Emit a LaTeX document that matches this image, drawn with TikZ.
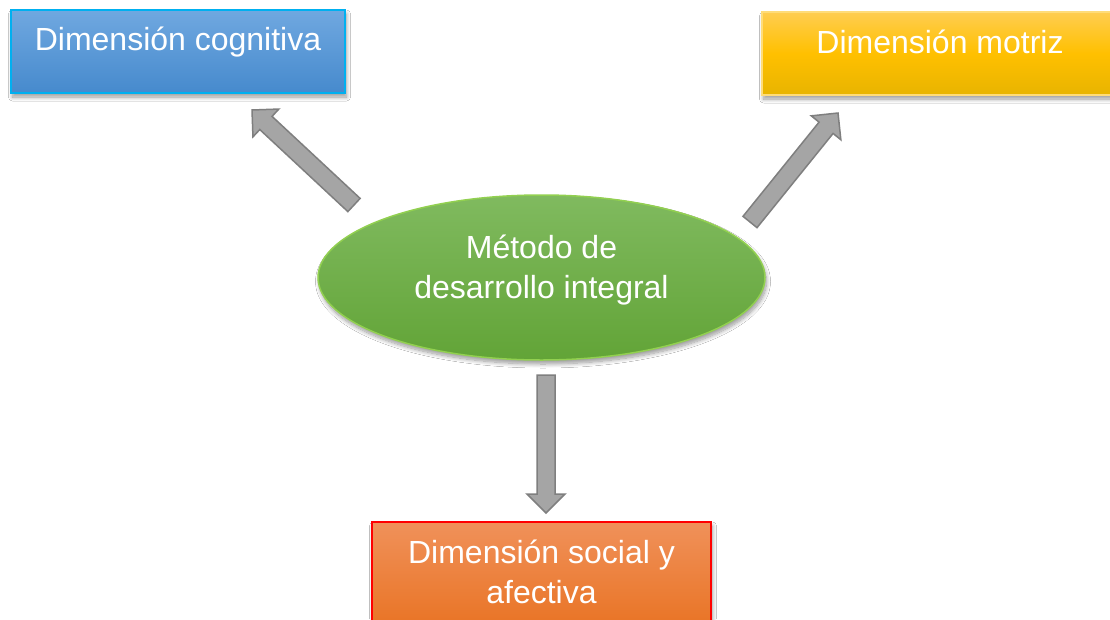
\documentclass[tikz,border=0pt]{standalone}
\usepackage{fontspec}
\setmainfont{Liberation Sans}
\usetikzlibrary{calc,shapes.geometric,shadows,shadows.blur}
\definecolor{bluetop}{HTML}{70A8E0}
\definecolor{bluebot}{HTML}{468ACD}
\definecolor{blueedge}{HTML}{00B0F0}
\definecolor{yeltop}{HTML}{FFCD50}
\definecolor{yelmid}{HTML}{FFC000}
\definecolor{yelbot}{HTML}{E8B400}
\definecolor{yeledge}{HTML}{FFDC78}
\definecolor{grntop}{HTML}{80BA5F}
\definecolor{grnbot}{HTML}{62A437}
\definecolor{grnedge}{HTML}{92D050}
\definecolor{ortop}{HTML}{F0915A}
\definecolor{orbot}{HTML}{E8701E}
\definecolor{oredge}{HTML}{FF0000}
\definecolor{arrfill}{HTML}{A5A5A5}
\definecolor{arredge}{HTML}{7F7F7F}
\newcommand\bxtext[4]{\parbox[c][#2pt][t]{#1pt}{\centering\rule{0pt}{#3pt}#4}}
\newcommand\blkarrow[2]{%
  \coordinate (hb) at ($(#2)!19pt!(#1)$);
  \draw[blockarrow] ($(#1)!9pt!90:(#2)$) -- ($(hb)!9pt!90:(#2)$) -- ($(hb)!19pt!90:(#2)$) -- (#2)
    -- ($(hb)!19pt!-90:(#2)$) -- ($(hb)!9pt!-90:(#2)$) -- ($(#1)!9pt!-90:(#2)$) -- cycle;}
\begin{document}
\begin{tikzpicture}[x=1pt,y=-1pt,
  txt/.style={text=white,font=\fontsize{32}{40}\selectfont,inner sep=0pt},
  shad/.style={blur shadow={shadow xshift=1.5pt,shadow yshift=-4pt,shadow opacity=40,shadow blur steps=10,shadow blur radius=4pt}},
  boxbase/.style={txt,rectangle,shad,line width=1.5pt},
  cogbox/.style={boxbase,draw=blueedge,top color=bluetop,bottom color=bluebot,line width=2pt},
  motbox/.style={boxbase,draw=yeledge,top color=yeltop,bottom color=yelbot,middle color=yelmid},
  socbox/.style={boxbase,draw=oredge,top color=ortop,bottom color=orbot},
  methell/.style={txt,ellipse,shad,draw=grnedge,line width=1.5pt,top color=grntop,bottom color=grnbot,minimum width=447pt,minimum height=165pt},
  blockarrow/.style={fill=arrfill,draw=arredge,line width=1.5pt,line join=miter}]
\clip (0,0) rectangle (1110,619);
\fill[white] (0,0) rectangle (1110,619);
\node[cogbox] (cog) at (178,51.5) {\bxtext{334}{83}{40}{Dimensión cognitiva}};
\node[motbox] (mot) at (940,53.5) {\bxtext{356}{83}{41}{Dimensión motriz}};
\node[socbox] (soc) at (541.5,581) {\bxtext{339}{118}{41}{Dimensión social y\\afectiva}};
\node[methell] (met) at (541.5,277.5) {\bxtext{300}{100}{30.5}{Método de\\desarrollo integral}};
\coordinate (a1s) at (354,205);
\coordinate (a1e) at (252,110);
\coordinate (a2s) at (750,222);
\coordinate (a2e) at (838,113);
\coordinate (a3s) at (546,375);
\coordinate (a3e) at (546,513);
\blkarrow{a1s}{a1e}
\blkarrow{a2s}{a2e}
\blkarrow{a3s}{a3e}
\end{tikzpicture}
\end{document}
